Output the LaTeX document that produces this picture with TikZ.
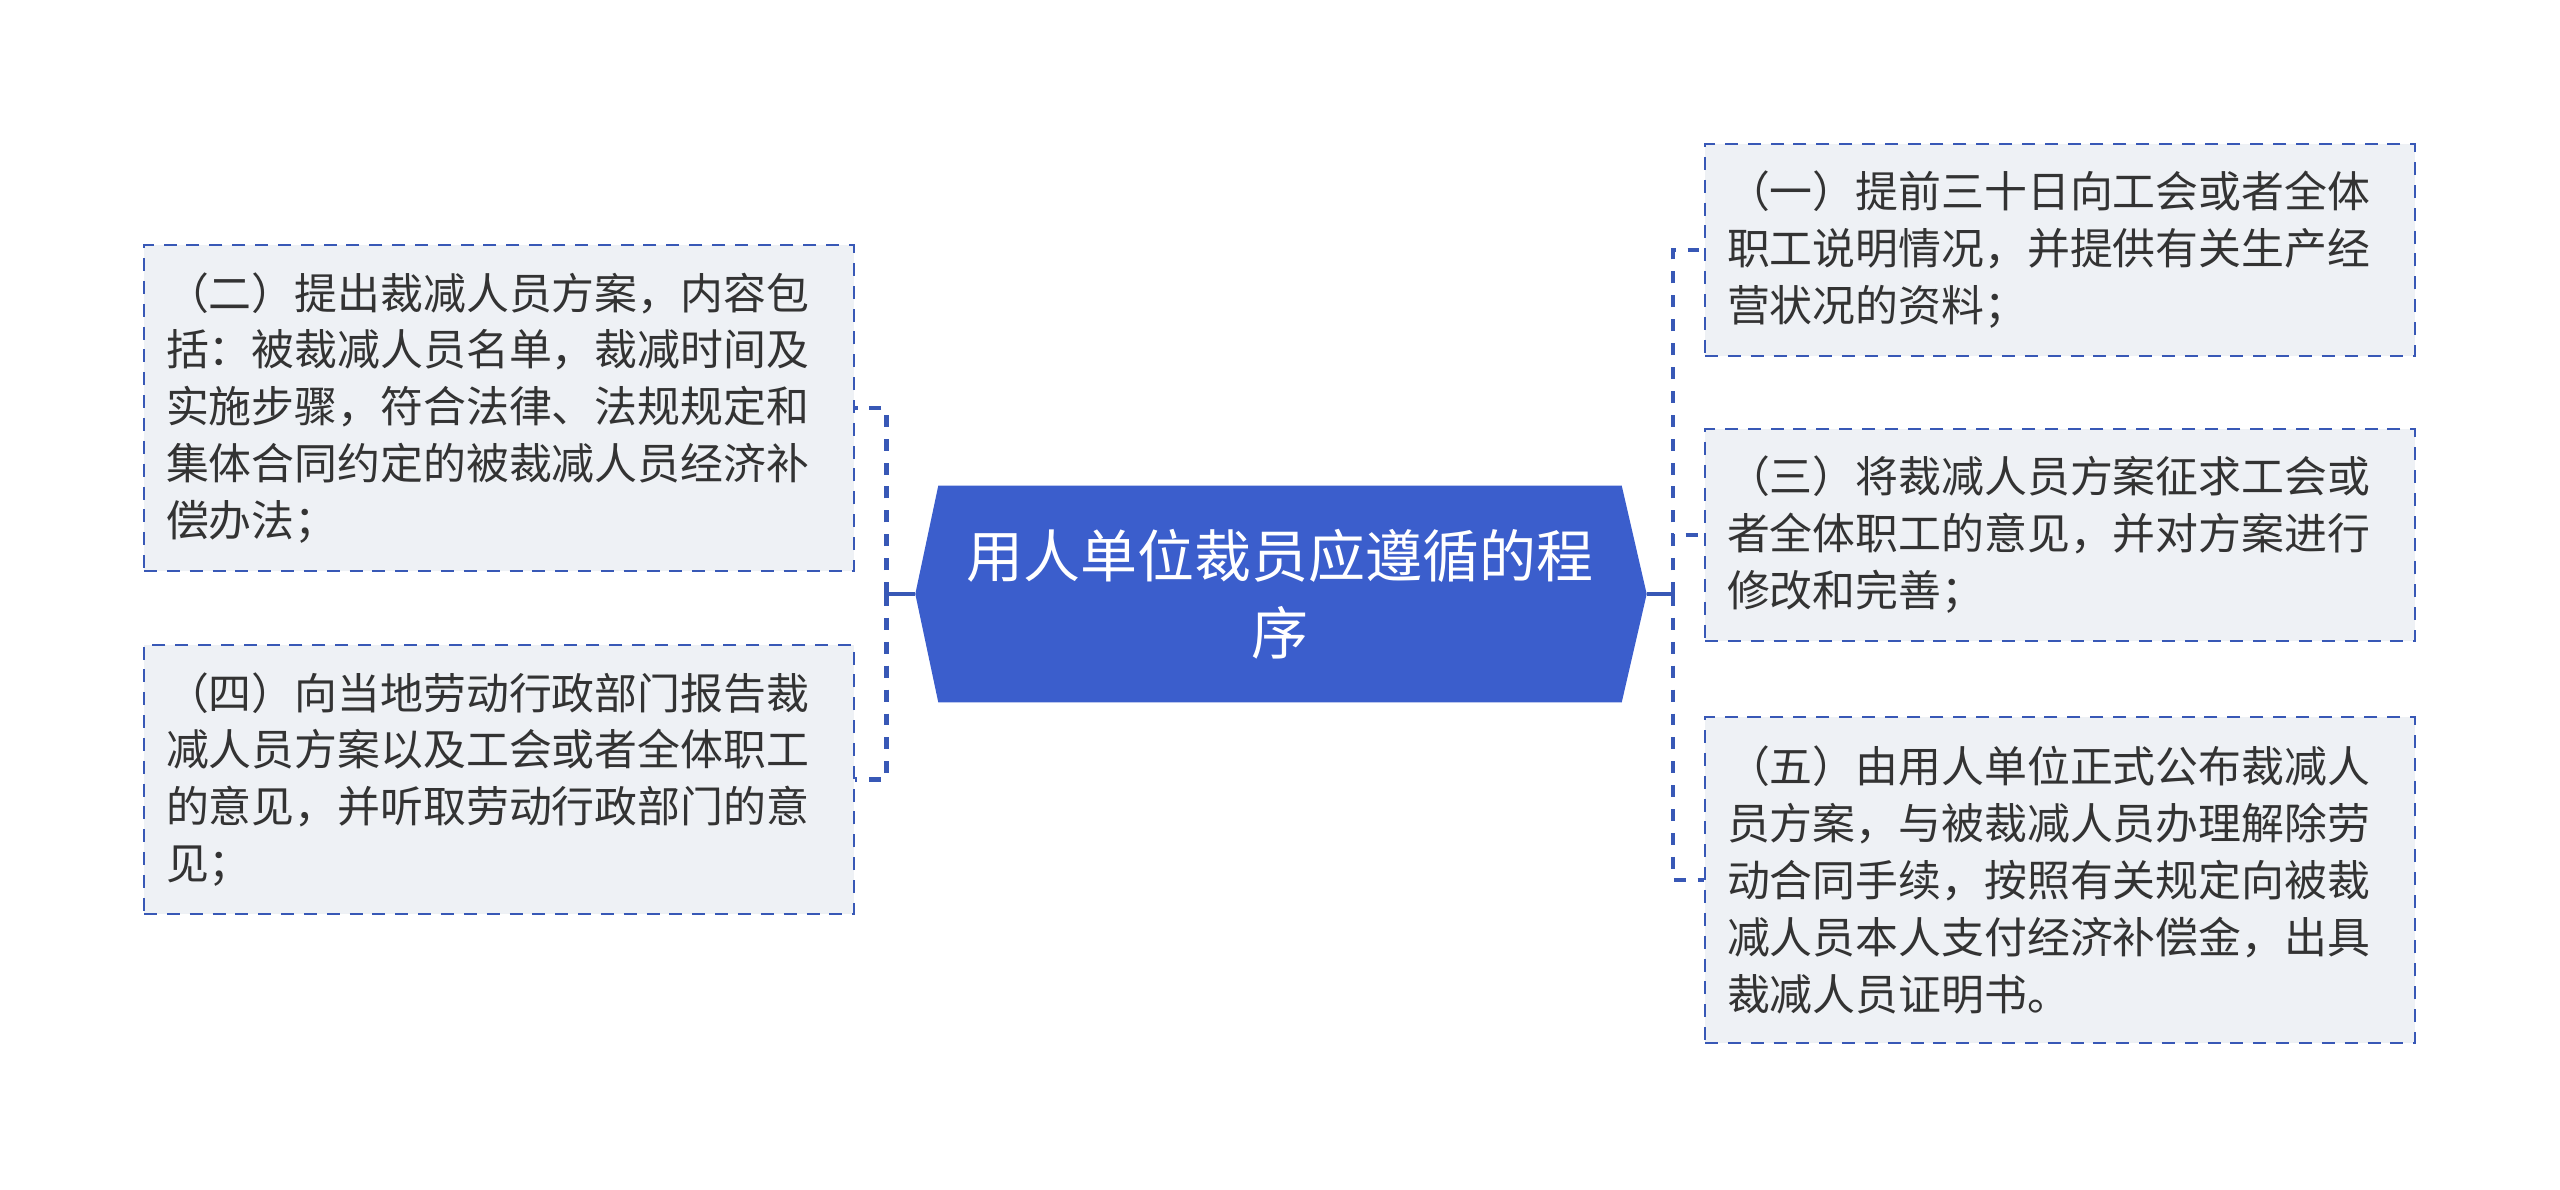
\documentclass[tikz,border=0pt]{standalone}
\usepackage{fontspec}
\newfontfamily\cjk{Noto Sans CJK SC}
\usetikzlibrary{
	backgrounds,
	calc,
	positioning
}
\definecolor{rootblue}{RGB}{59,94,204}
\definecolor{leafblue}{RGB}{56,88,182}
\definecolor{leaffill}{RGB}{238,241,245}
\definecolor{leaftext}{RGB}{51,51,51}
\tikzset{
	MM-Root/.style={rectangle,align=center,text=white,inner sep=0pt,minimum width=6.82cm,minimum height=2.155cm,font=\cjk\fontsize{16.2pt}{21.9pt}\selectfont},
	MM-Leaf/.style={rectangle,draw=leafblue,fill=leaffill,line width=0.8pt,dash pattern=on 3.7pt off 2.8pt,align=left,text=leaftext,text width=6.66cm,inner xsep=0.22cm,inner ysep=0.1cm,font=\cjk\fontsize{12.2pt}{16.2pt}\selectfont},
	MM-Branch/.style={draw=leafblue,line width=1.4pt,dash pattern=on 3.4pt off 3.4pt},
	MM-Stub/.style={draw=leafblue,line width=1.4pt}
}

\begin{document}
\begin{tikzpicture}
	\useasboundingbox (0,0) rectangle (25.6,-11.89);
	\node [MM-Root] (node_root) at (12.80,-5.94) {用人单位裁员应遵循的程\\序};
	\coordinate (root_l) at ($(node_root.west)+(-0.23,0)$);
	\coordinate (root_r) at ($(node_root.east)+(0.25,0)$);
	% hexagon behind the title
	\begin{scope}[on background layer]
		\fill [rootblue] (node_root.north west) -- (node_root.north east) -- (root_r)
			-- (node_root.south east) -- (node_root.south west) -- (root_l) -- cycle;
	\end{scope}
	\node [MM-Leaf,minimum height=3.26cm] (node_two) at (4.99,-4.08) {（二）提出裁减人员方案，内容包\\括：被裁减人员名单，裁减时间及\\实施步骤，符合法律、法规规定和\\集体合同约定的被裁减人员经济补\\偿办法；};
	\node [MM-Leaf,minimum height=2.69cm] (node_four) at (4.99,-7.795) {（四）向当地劳动行政部门报告裁\\减人员方案以及工会或者全体职工\\的意见，并听取劳动行政部门的意\\见；};
	\node [MM-Leaf,minimum height=2.12cm] (node_one) at (20.60,-2.50) {（一）提前三十日向工会或者全体\\职工说明情况，并提供有关生产经\\营状况的资料；};
	\node [MM-Leaf,minimum height=2.12cm] (node_three) at (20.60,-5.35) {（三）将裁减人员方案征求工会或\\者全体职工的意见，并对方案进行\\修改和完善；};
	\node [MM-Leaf,minimum height=3.26cm] (node_five) at (20.60,-8.80) {（五）由用人单位正式公布裁减人\\员方案，与被裁减人员办理解除劳\\动合同手续，按照有关规定向被裁\\减人员本人支付经济补偿金，出具\\裁减人员证明书。};
	\coordinate (fork_l) at (8.866,-5.94);
	\coordinate (fork_r) at (16.73,-5.94);
	\draw [MM-Stub] (root_l) -- (fork_l);
	\draw [MM-Stub] (root_r) -- (fork_r);
	\draw [MM-Branch] (fork_l) |- (node_two.east);
	\draw [MM-Branch] (fork_l) |- (node_four.east);
	\draw [MM-Branch] (fork_r) |- (node_one.west);
	\draw [MM-Branch] (fork_r) |- (node_three.west);
	\draw [MM-Branch] (fork_r) |- (node_five.west);
\end{tikzpicture}
\end{document}
